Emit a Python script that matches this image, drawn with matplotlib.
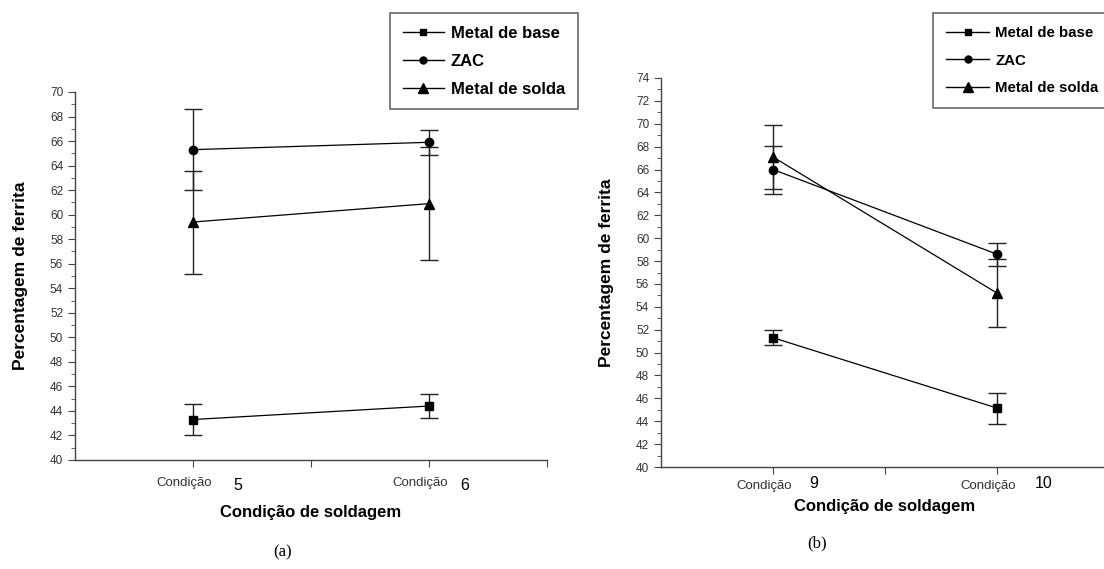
import matplotlib
matplotlib.use("Agg")
import matplotlib.pyplot as plt
from matplotlib.lines import Line2D
import matplotlib.transforms as mtransforms

# data
series = ["Metal de base", "ZAC", "Metal de solda"]
markers = ["s", "o", "^"]

cond_a = ["5", "6"]
base_a = [43.3, 44.4]
base_a_err = [1.25, 0.95]
zac_a = [65.3, 65.9]
zac_a_err = [3.3, 1.0]
solda_a = [59.4, 60.9]
solda_a_err = [4.2, 4.6]

cond_b = ["9", "10"]
base_b = [51.3, 45.15]
base_b_err = [0.65, 1.35]
zac_b = [66.0, 58.6]
zac_b_err = [2.1, 1.0]
solda_b = [67.1, 55.2]
solda_b_err = [2.8, 3.0]

SANS = ["Liberation Sans", "DejaVu Sans"]
plt.rcParams["font.family"] = SANS
W, H = 1104, 569

fig = plt.figure(figsize=(W / 100, H / 100), dpi=100)


def px_axes(l, t, r, b):
    return fig.add_axes([l / W, 1 - b / H, (r - l) / W, (b - t) / H])


def draw_panel(ax, means, errs, conds, ylim, num_x, tick_pad, num_dy, xlab_dy):
    x = [0, 1]
    for m, e, mk in zip(means, errs, markers):
        ms = {"s": 5.5, "o": 6, "^": 7}[mk]
        ax.errorbar(x, m, yerr=e, color="black", ecolor="#222222",
                    elinewidth=1.0, capsize=6.5, capthick=1.0, lw=0.9,
                    marker=mk, ms=ms, mfc="black", mec="black", clip_on=False)
    ax.set_xlim(-0.5, 1.5)
    ax.set_ylim(*ylim)
    ax.set_yticks(range(ylim[0], ylim[1] + 1, 2))
    ax.set_yticks(range(ylim[0], ylim[1] + 1, 1), minor=True)
    ax.set_xticks([0, 0.5, 1, 1.5])
    ax.set_xticklabels(["Condição", "", "Condição", ""])
    for s in ["top", "right"]:
        ax.spines[s].set_visible(False)
    for s in ["left", "bottom"]:
        ax.spines[s].set_color("#444444")
        ax.spines[s].set_linewidth(1.0)
    ax.tick_params(axis="both", which="major", length=5, color="#444444",
                   labelcolor="#333333", labelsize=8.5)
    ax.tick_params(axis="y", which="minor", length=3, color="#444444")
    ax.tick_params(axis="x", pad=tick_pad, labelsize=9.5)
    shift = mtransforms.ScaledTranslation(-9 / 100, 0, fig.dpi_scale_trans)
    for lab in ax.get_xticklabels():
        lab.set_transform(lab.get_transform() + shift)
    hpx = ax.get_position().height * H
    ax.set_ylabel("Percentagem de ferrita", fontsize=12.5, fontweight="bold",
                  labelpad=16)
    ax.set_xlabel("Condição de soldagem", fontsize=12, fontweight="bold",
                  va="center")
    ax.xaxis.set_label_coords(0.5, -xlab_dy / hpx)
    trans = mtransforms.blended_transform_factory(ax.transData, ax.transAxes)
    for c, nx in zip(conds, num_x):
        ax.text(nx, -num_dy / hpx, c, transform=trans, ha="center", va="center",
                fontsize=11.5)
    handles = [Line2D([], [], color="black", lw=1.0, marker=mk,
                      ms=5 if mk != "^" else 6.5, mfc="black", mec="black")
               for mk in markers]
    return handles


def add_legend(ax, handles, x0, size, hlen, lspace, bpad):
    leg = ax.legend(handles, series, loc="upper left",
                    bbox_to_anchor=(x0 / W, 1 - 13 / H),
                    bbox_transform=fig.transFigure, borderaxespad=0,
                    prop={"weight": "bold", "size": size},
                    frameon=True, fancybox=False, edgecolor="#444444",
                    handlelength=hlen, handletextpad=0.4, labelspacing=lspace,
                    borderpad=bpad)
    leg.get_frame().set_linewidth(1.2)


# panel (a)
ax_a = px_axes(75, 92, 547, 460)
h = draw_panel(ax_a, [base_a, zac_a, solda_a], [base_a_err, zac_a_err, solda_a_err],
               cond_a, (40, 70), [0.19, 1.15], tick_pad=7.5, num_dy=26, xlab_dy=52)
add_legend(ax_a, h, 390, 12, 2.5, 0.78, 0.75)

# panel (b)
ax_b = px_axes(661, 78, 1109, 467)
h = draw_panel(ax_b, [base_b, zac_b, solda_b], [base_b_err, zac_b_err, solda_b_err],
               cond_b, (40, 74), [0.18, 1.21], tick_pad=4.5, num_dy=17, xlab_dy=40)
add_legend(ax_b, h, 933, 10.8, 2.9, 0.92, 0.85)

fig.text(283 / W, 1 - 552 / H, "(a)", ha="center", va="center", fontsize=12,
         family=["Liberation Serif", "DejaVu Serif"])
fig.text(817 / W, 1 - 543 / H, "(b)", ha="center", va="center", fontsize=12,
         family=["Liberation Serif", "DejaVu Serif"])

fig.savefig("out.png", dpi=100)
